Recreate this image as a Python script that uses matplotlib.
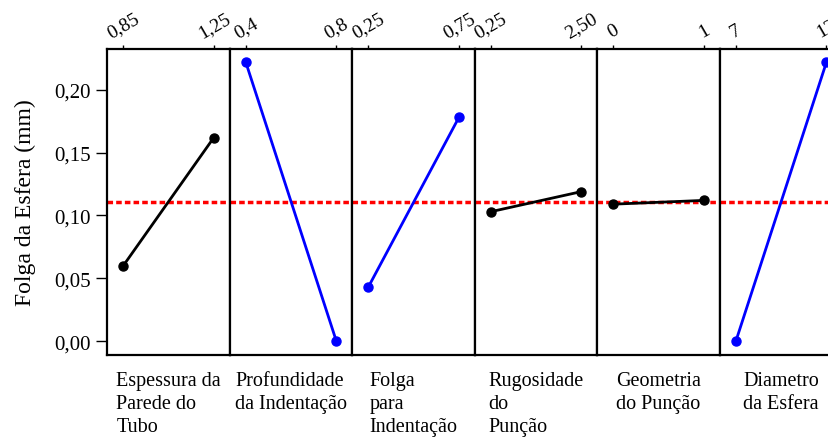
import matplotlib.pyplot as plt

plt.rcParams["font.family"] = ["Liberation Serif", "DejaVu Serif"]

# main effects: mean response at low / high level of each factor
factors = ["Espessura da\nParede do\nTubo", "Profundidade\nda Indentação",
           "Folga\npara\nIndentação", "Rugosidade\ndo\nPunção",
           "Geometria\ndo Punção", "Diametro\nda Esfera"]
low_labels = ["0,85", "0,4", "0,25", "0,25", "0", "7"]
high_labels = ["1,25", "0,8", "0,75", "2,50", "1", "12"]
low_means = [0.060, 0.222, 0.043, 0.103, 0.109, 0.000]
high_means = [0.162, 0.000, 0.178, 0.119, 0.112, 0.222]
line_colors = ["black", "#0000ff", "#0000ff", "black", "black", "#0000ff"]
grand_mean = 0.1105
y_ticks = [0.00, 0.05, 0.10, 0.15, 0.20]

fig = plt.figure(figsize=(8.29, 4.39), dpi=100)

left, bottom, width, height = 0.1294, 0.1898, 0.1478, 0.6963
ylim = (-0.0107, 0.2324)

for i, name in enumerate(factors):
    ax = fig.add_axes([left + i * width, bottom, width, height])
    ax.plot([0, 1], [low_means[i], high_means[i]], color=line_colors[i],
            lw=2.0, marker="o", ms=6.5, zorder=3)
    ax.axhline(grand_mean, color="red", lw=2.5, dashes=(1.6, 0.9), zorder=2)
    ax.set_xlim(-0.176, 1.176)
    ax.set_ylim(*ylim)
    ax.xaxis.tick_top()
    ax.set_xticks([0, 1])
    ax.set_xticklabels([low_labels[i], high_labels[i]], rotation=30,
                       fontsize=14, ha="center")
    ax.tick_params(axis="x", direction="out", length=3, width=1, pad=3)
    for sp in ax.spines.values():
        sp.set_linewidth(1.6)
    if i == 0:
        ax.set_yticks(y_ticks)
        ax.set_yticklabels([f"{v:.2f}".replace(".", ",") for v in y_ticks],
                           fontsize=15)
        ax.tick_params(axis="y", direction="out", length=8, width=1, pad=4)
        ax.set_ylabel("Folga da Esfera (mm)", fontsize=17, labelpad=13)
    else:
        ax.set_yticks([])
    ax.text(0.5, -0.052, name, transform=ax.transAxes, ha="center", va="top",
            multialignment="left", fontsize=14.5, linespacing=1.3)

fig.savefig("out.png", dpi=100)
